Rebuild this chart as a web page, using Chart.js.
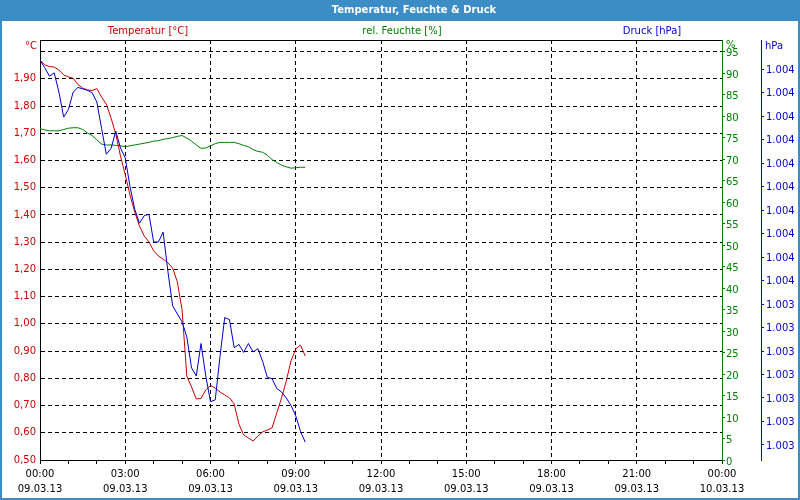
<!DOCTYPE html>
<html>
<head>
<meta charset="utf-8">
<script src="https://cdn.jsdelivr.net/npm/chart.js@4"></script>
<style>
  html, body { margin: 0; padding: 0; background: #fff; }
  canvas { display: block; }
</style>
</head>
<body>
<canvas id="chart" width="800" height="500"></canvas>
<script>
// Messwerte alle 10 Minuten ab 09.03.13 00:00 (Minuten seit Mitternacht)
const minutes = [0, 10, 20, 30, 40, 50, 60, 70, 80, 90, 100, 110, 120, 130, 140, 150, 160, 170, 180, 190,
  200, 210, 220, 230, 240, 250, 260, 270, 280, 290, 300, 310, 320, 330, 340, 350, 360, 370, 380, 390,
  400, 410, 420, 430, 440, 450, 460, 470, 480, 490, 500, 510, 520, 530, 540, 550, 560];

const temperatur = [1.969, 1.951, 1.945, 1.943, 1.932, 1.914, 1.907, 1.902, 1.879, 1.866, 1.859, 1.857,
  1.864, 1.833, 1.807, 1.756, 1.697, 1.616, 1.547, 1.473, 1.411, 1.359, 1.323, 1.301, 1.268, 1.249,
  1.238, 1.224, 1.205, 1.154, 1.051, 0.808, 0.768, 0.724, 0.726, 0.757, 0.774, 0.764, 0.750, 0.739,
  0.728, 0.706, 0.632, 0.592, 0.581, 0.570, 0.588, 0.603, 0.610, 0.618, 0.673, 0.728, 0.790, 0.864,
  0.908, 0.922, 0.882];

const feuchte = [77.1, 76.8, 76.6, 76.6, 76.6, 76.9, 77.2, 77.3, 77.3, 76.9, 76.1, 75.5, 74.5, 73.5,
  73.3, 73.3, 73.2, 73.1, 72.9, 73.1, 73.3, 73.5, 73.7, 73.9, 74.2, 74.3, 74.6, 74.8, 75.0, 75.3,
  75.5, 74.9, 74.2, 73.3, 72.5, 72.6, 73.1, 73.6, 73.9, 73.9, 73.9, 73.9, 73.6, 73.2, 72.9, 72.2,
  71.8, 71.6, 70.9, 69.9, 69.2, 68.6, 68.2, 67.9, 68.0, 68.1, 68.1];

const druck = [1003.969, 1003.953, 1003.935, 1003.942, 1003.901, 1003.848, 1003.864, 1003.901,
  1003.911, 1003.908, 1003.905, 1003.900, 1003.880, 1003.824, 1003.769, 1003.781, 1003.818,
  1003.782, 1003.761, 1003.700, 1003.652, 1003.622, 1003.638, 1003.641, 1003.582, 1003.582,
  1003.603, 1003.520, 1003.446, 1003.429, 1003.412, 1003.380, 1003.314, 1003.297, 1003.366,
  1003.297, 1003.242, 1003.246, 1003.338, 1003.421, 1003.417, 1003.357, 1003.364, 1003.347,
  1003.366, 1003.348, 1003.355, 1003.328, 1003.294, 1003.291, 1003.270, 1003.263, 1003.250,
  1003.234, 1003.212, 1003.179, 1003.156];

// Achsen-Ticks
const tempTicks = [0.5, 0.6, 0.7, 0.8, 0.9, 1.0, 1.1, 1.2, 1.3, 1.4, 1.5, 1.6, 1.7, 1.8, 1.9, 2.0];
const feuchteTicks = [0, 5, 10, 15, 20, 25, 30, 35, 40, 45, 50, 55, 60, 65, 70, 75, 80, 85, 90, 95];
const druckTicks = [1003.15, 1003.20, 1003.25, 1003.30, 1003.35, 1003.40, 1003.45, 1003.50, 1003.55,
  1003.60, 1003.65, 1003.70, 1003.75, 1003.80, 1003.85, 1003.90, 1003.95];
const stundenTicks = [0, 60, 120, 180, 240, 300, 360, 420, 480, 540, 600, 660, 720, 780, 840, 900,
  960, 1020, 1080, 1140, 1200, 1260, 1320, 1380, 1440];

const ROT = '#cc0000', GRUEN = '#008000', BLAU = '#0000cc';
const FONT = '"DejaVu Sans", sans-serif';

const setTicks = (list) => (scale) => { scale.ticks = list.map((v) => ({ value: v })); };

const frame = {
  id: 'frame',
  beforeDraw(chart) {
    const { ctx, width, height } = chart;
    ctx.save();
    ctx.fillStyle = '#fff';
    ctx.fillRect(0, 0, width, height);
    ctx.fillStyle = '#3c8dc6';
    ctx.fillRect(0, 0, width, 21);
    ctx.fillRect(0, 0, 2, height);
    ctx.fillRect(width - 2, 0, 2, height);
    ctx.fillRect(0, height - 2, width, 2);
    ctx.restore();
  },
  afterDraw(chart) {
    const { ctx, chartArea } = chart;
    ctx.save();
    ctx.strokeStyle = '#000';
    ctx.lineWidth = 1;
    ctx.beginPath();
    ctx.moveTo(chartArea.left, chartArea.top + 0.5);
    ctx.lineTo(chartArea.right, chartArea.top + 0.5);
    ctx.stroke();

    ctx.textBaseline = 'middle';
    ctx.textAlign = 'center';
    ctx.fillStyle = '#fff';
    ctx.font = 'bold 10px ' + FONT;
    ctx.fillText('Temperatur, Feuchte & Druck', 414, 10.5);

    ctx.font = '10px ' + FONT;
    ctx.fillStyle = ROT;
    ctx.fillText('Temperatur [°C]', 148, 31);
    ctx.fillStyle = GRUEN;
    ctx.fillText('rel. Feuchte [%]', 402, 31);
    ctx.fillStyle = BLAU;
    ctx.fillText('Druck [hPa]', 652, 31);

    ctx.textAlign = 'right';
    ctx.fillStyle = ROT;
    ctx.fillText('°C', 37, 46);
    ctx.textAlign = 'left';
    ctx.fillStyle = GRUEN;
    ctx.fillText('%', 726, 45);
    ctx.fillStyle = BLAU;
    ctx.fillText('hPa', 765, 46);
    ctx.restore();
  }
};

const pad2 = (n) => String(n).padStart(2, '0');

new Chart(document.getElementById('chart'), {
  type: 'line',
  data: {
    datasets: [
      {
        label: 'Druck [hPa]',
        data: minutes.map((m, i) => ({ x: m, y: druck[i] })),
        borderColor: BLAU,
        yAxisID: 'yP'
      },
      {
        label: 'Temperatur [°C]',
        data: minutes.map((m, i) => ({ x: m, y: temperatur[i] })),
        borderColor: ROT,
        yAxisID: 'yT'
      },
      {
        label: 'rel. Feuchte [%]',
        data: minutes.map((m, i) => ({ x: m, y: feuchte[i] })),
        borderColor: GRUEN,
        yAxisID: 'yH'
      }
    ]
  },
  options: {
    responsive: false,
    animation: false,
    devicePixelRatio: 1,
    layout: { padding: { top: 40, left: 0, right: 0, bottom: 0 } },
    elements: {
      line: { borderWidth: 1, tension: 0 },
      point: { radius: 0 }
    },
    plugins: { legend: { display: false }, tooltip: { enabled: false } },
    scales: {
      x: {
        type: 'linear',
        min: 0,
        max: 1440,
        afterBuildTicks: setTicks(stundenTicks),
        afterFit: (s) => { s.height = 40; },
        grid: {
          color: (c) => (c.tick && c.tick.value % 180 === 0 && c.tick.value > 0 && c.tick.value < 1440) ? '#000' : 'rgba(0,0,0,0)',
          tickColor: '#000',
          tickLength: 4
        },
        border: { color: '#000', dash: [4, 3] },
        ticks: {
          autoSkip: false,
          maxRotation: 0,
          padding: 3,
          color: '#000',
          font: { family: FONT, size: 10, lineHeight: 1.5 },
          callback: (v) => v % 180 === 0
            ? [pad2(Math.floor(v / 60) % 24) + ':00', v >= 1440 ? '10.03.13' : '09.03.13']
            : ''
        }
      },
      yT: {
        position: 'left',
        min: 0.5,
        max: 2.0424,
        afterBuildTicks: setTicks(tempTicks),
        afterFit: (s) => { s.width = 40; },
        grid: { color: '#000', drawTicks: false },
        border: { color: '#000', dash: [4, 3] },
        ticks: {
          padding: 4,
          color: ROT,
          font: { family: FONT, size: 10 },
          callback: (v) => v > 1.95 ? '' : v.toFixed(2).replace('.', ',')
        }
      },
      yH: {
        position: 'right',
        weight: 0,
        min: 0,
        max: 97.72,
        afterBuildTicks: setTicks(feuchteTicks),
        afterFit: (s) => { s.width = 39; },
        grid: { drawOnChartArea: false, tickColor: GRUEN, tickLength: 3 },
        border: { color: GRUEN },
        ticks: {
          padding: 1,
          labelOffset: 2,
          color: GRUEN,
          font: { family: FONT, size: 10 },
          callback: (v) => String(v)
        }
      },
      yP: {
        position: 'right',
        weight: 1,
        min: 1003.118,
        max: 1004.012,
        afterBuildTicks: setTicks(druckTicks),
        afterFit: (s) => { s.width = 39; },
        grid: { drawOnChartArea: false, tickColor: BLAU, tickLength: 3 },
        border: { color: BLAU },
        ticks: {
          padding: 2,
          labelOffset: 1,
          color: BLAU,
          font: { family: FONT, size: 10 },
          callback: (v) => (Math.round(v) / 1000).toFixed(3)
        }
      }
    }
  },
  plugins: [frame]
});
</script>
</body>
</html>
